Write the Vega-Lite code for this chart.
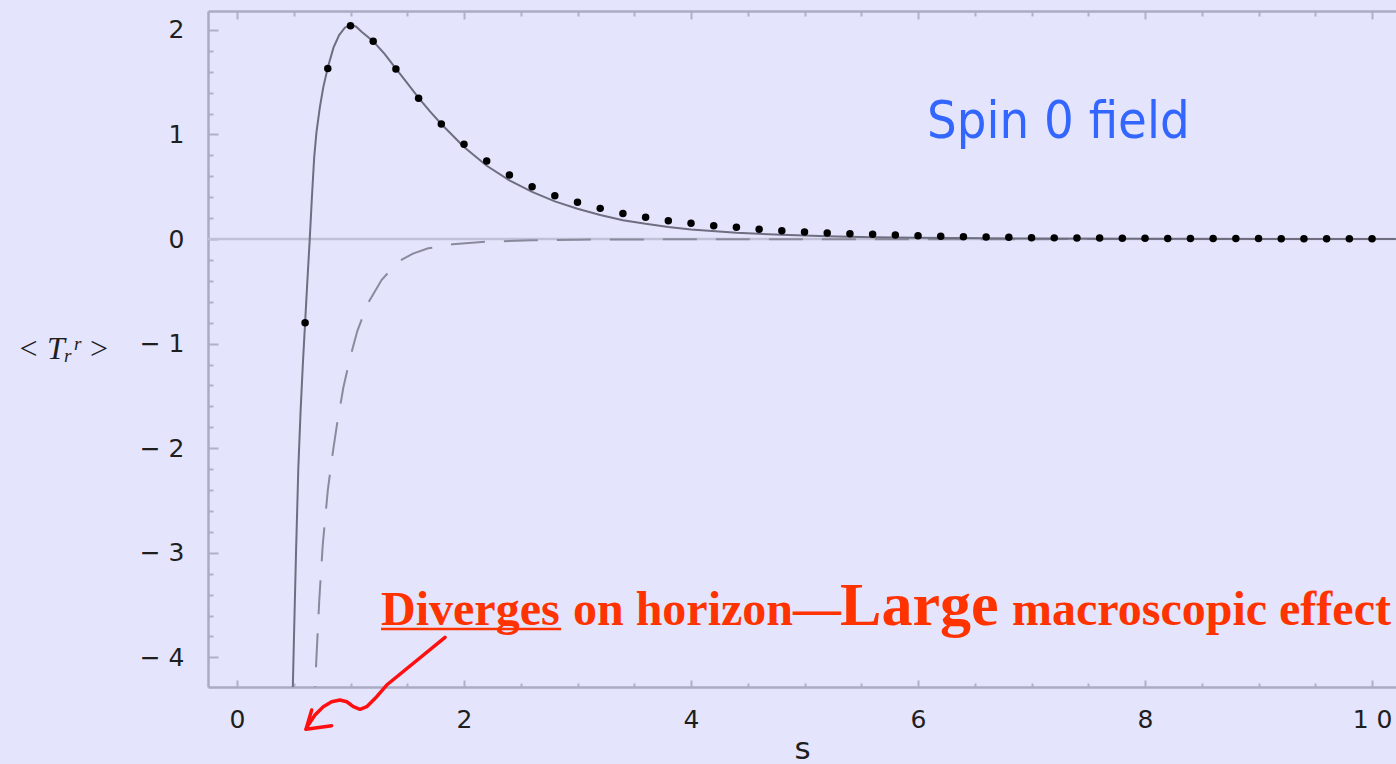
{
  "$schema": "https://vega.github.io/schema/vega-lite/v6.json",
  "width": 1188,
  "height": 676,
  "autosize": "none",
  "padding": {"left": 208, "top": 11, "right": 0, "bottom": 77},
  "background": "#E4E4FC",
  "config": {"view": {"stroke": null}, "axis": {"grid": false}},
  "datasets": {
    "solid": [
      {"s": 0.485, "v": -4.6}, {"s": 0.50, "v": -3.9}, {"s": 0.52, "v": -3.0}, {"s": 0.54, "v": -2.2},
      {"s": 0.56, "v": -1.65}, {"s": 0.58, "v": -1.2}, {"s": 0.60, "v": -0.80}, {"s": 0.62, "v": -0.40},
      {"s": 0.64, "v": -0.02}, {"s": 0.66, "v": 0.40}, {"s": 0.68, "v": 0.78}, {"s": 0.70, "v": 1.02},
      {"s": 0.73, "v": 1.26}, {"s": 0.76, "v": 1.45}, {"s": 0.80, "v": 1.64}, {"s": 0.85, "v": 1.83},
      {"s": 0.90, "v": 1.95}, {"s": 0.95, "v": 2.02}, {"s": 1.00, "v": 2.05}, {"s": 1.05, "v": 2.03},
      {"s": 1.10, "v": 1.98}, {"s": 1.20, "v": 1.89}, {"s": 1.30, "v": 1.77}, {"s": 1.40, "v": 1.63},
      {"s": 1.50, "v": 1.49}, {"s": 1.60, "v": 1.35}, {"s": 1.70, "v": 1.22}, {"s": 1.80, "v": 1.10},
      {"s": 1.90, "v": 0.99}, {"s": 2.00, "v": 0.88}, {"s": 2.20, "v": 0.70}, {"s": 2.40, "v": 0.56},
      {"s": 2.60, "v": 0.45}, {"s": 2.80, "v": 0.36}, {"s": 3.00, "v": 0.29}, {"s": 3.20, "v": 0.23},
      {"s": 3.40, "v": 0.18}, {"s": 3.60, "v": 0.145}, {"s": 3.80, "v": 0.115}, {"s": 4.00, "v": 0.092},
      {"s": 4.40, "v": 0.06}, {"s": 4.80, "v": 0.04}, {"s": 5.20, "v": 0.027}, {"s": 5.60, "v": 0.018},
      {"s": 6.00, "v": 0.012}, {"s": 7.00, "v": 0.005}, {"s": 8.00, "v": 0.002}, {"s": 10.21, "v": 0.0}
    ],
    "dashed": [
      {"s": 0.68, "v": -4.6}, {"s": 0.687, "v": -4.31}, {"s": 0.70, "v": -4.0}, {"s": 0.725, "v": -3.45},
      {"s": 0.755, "v": -2.93}, {"s": 0.80, "v": -2.40}, {"s": 0.843, "v": -2.05}, {"s": 0.88, "v": -1.78},
      {"s": 0.937, "v": -1.42}, {"s": 1.00, "v": -1.12}, {"s": 1.06, "v": -0.88}, {"s": 1.15, "v": -0.62},
      {"s": 1.275, "v": -0.39}, {"s": 1.42, "v": -0.217}, {"s": 1.55, "v": -0.14}, {"s": 1.685, "v": -0.089},
      {"s": 1.90, "v": -0.05}, {"s": 2.20, "v": -0.026}, {"s": 2.60, "v": -0.012}, {"s": 3.00, "v": -0.006},
      {"s": 4.00, "v": -0.002}, {"s": 10.21, "v": 0.0}
    ],
    "dots": [
      {"s": 0.6, "v": -0.80}, {"s": 0.8, "v": 1.63}, {"s": 1.0, "v": 2.04}, {"s": 1.2, "v": 1.89},
      {"s": 1.4, "v": 1.625}, {"s": 1.6, "v": 1.345}, {"s": 1.8, "v": 1.10}, {"s": 2.0, "v": 0.905},
      {"s": 2.2, "v": 0.746}, {"s": 2.4, "v": 0.612}, {"s": 2.6, "v": 0.50}, {"s": 2.8, "v": 0.414},
      {"s": 3.0, "v": 0.351}, {"s": 3.2, "v": 0.293}, {"s": 3.4, "v": 0.245}, {"s": 3.6, "v": 0.207},
      {"s": 3.8, "v": 0.175}, {"s": 4.0, "v": 0.150}, {"s": 4.2, "v": 0.127}, {"s": 4.4, "v": 0.112},
      {"s": 4.6, "v": 0.093}, {"s": 4.8, "v": 0.080}, {"s": 5.0, "v": 0.067}, {"s": 5.2, "v": 0.057},
      {"s": 5.4, "v": 0.051}, {"s": 5.6, "v": 0.045}, {"s": 5.8, "v": 0.038}, {"s": 6.0, "v": 0.032},
      {"s": 6.2, "v": 0.027}, {"s": 6.4, "v": 0.022}, {"s": 6.6, "v": 0.019}, {"s": 6.8, "v": 0.016},
      {"s": 7.0, "v": 0.013}, {"s": 7.2, "v": 0.011}, {"s": 7.4, "v": 0.010}, {"s": 7.6, "v": 0.009},
      {"s": 7.8, "v": 0.008}, {"s": 8.0, "v": 0.007}, {"s": 8.2, "v": 0.006}, {"s": 8.4, "v": 0.005},
      {"s": 8.6, "v": 0.005}, {"s": 8.8, "v": 0.004}, {"s": 9.0, "v": 0.004}, {"s": 9.2, "v": 0.003},
      {"s": 9.4, "v": 0.003}, {"s": 9.6, "v": 0.003}, {"s": 9.8, "v": 0.002}, {"s": 10.0, "v": 0.002}
    ],
    "arrow": [
      {"part": "shaft", "i": 0, "s": 1.833, "v": -3.808},
      {"part": "shaft", "i": 1, "s": 1.319, "v": -4.264},
      {"part": "shaft", "i": 2, "s": 1.231, "v": -4.376},
      {"part": "shaft", "i": 3, "s": 1.143, "v": -4.471},
      {"part": "shaft", "i": 4, "s": 1.084, "v": -4.496},
      {"part": "shaft", "i": 5, "s": 1.025, "v": -4.471},
      {"part": "shaft", "i": 6, "s": 0.967, "v": -4.424},
      {"part": "shaft", "i": 7, "s": 0.907, "v": -4.407},
      {"part": "shaft", "i": 8, "s": 0.834, "v": -4.424},
      {"part": "shaft", "i": 9, "s": 0.760, "v": -4.471},
      {"part": "shaft", "i": 10, "s": 0.687, "v": -4.551},
      {"part": "shaft", "i": 11, "s": 0.628, "v": -4.646},
      {"part": "shaft", "i": 12, "s": 0.608, "v": -4.687},
      {"part": "head", "i": 0, "s": 0.658, "v": -4.503},
      {"part": "head", "i": 1, "s": 0.608, "v": -4.687},
      {"part": "head", "i": 2, "s": 0.834, "v": -4.653}
    ]
  },
  "resolve": {"axis": {"x": "independent", "y": "independent"}},
  "layer": [
    {
      "data": {"values": [{"v": 0}]},
      "mark": {"type": "rule", "color": "#C0C0D8", "strokeWidth": 2.5},
      "encoding": {
        "y": {"field": "v", "type": "quantitative", "axis": null,
              "scale": {"domain": [-4.283, 2.18], "nice": false, "zero": false}}
      }
    },
    {
      "data": {"name": "dashed"},
      "mark": {"type": "line", "color": "#8A8A9C", "strokeWidth": 2, "strokeDash": [34, 19], "clip": true},
      "encoding": {
        "x": {"field": "s", "type": "quantitative", "axis": null,
              "scale": {"domain": [-0.2555, 10.211], "nice": false, "zero": false}},
        "y": {"field": "v", "type": "quantitative", "axis": null,
              "scale": {"domain": [-4.283, 2.18], "nice": false, "zero": false}}
      }
    },
    {
      "data": {"name": "solid"},
      "mark": {"type": "line", "color": "#6E6E80", "strokeWidth": 2, "clip": true},
      "encoding": {
        "x": {"field": "s", "type": "quantitative",
              "scale": {"domain": [-0.2555, 10.211], "nice": false, "zero": false},
              "axis": {
                "orient": "bottom",
                "values": [0, 0.5, 1, 1.5, 2, 2.5, 3, 3.5, 4, 4.5, 5, 5.5, 6, 6.5, 7, 7.5, 8, 8.5, 9, 9.5, 10],
                "domainColor": "#ABABC4", "domainWidth": 2.5,
                "tickColor": "#B0B0C8", "tickWidth": 2,
                "tickSize": {"condition": {"test": "abs(datum.value % 2) < 0.001", "value": -7}, "value": -4},
                "labelExpr": "abs(datum.value % 2) < 0.001 ? (datum.value == 10 ? '1 0' : format(datum.value, 'd')) : ''",
                "labelPadding": 27, "labelFont": "DejaVu Sans", "labelFontSize": 25, "labelColor": "#1E1E1E",
                "labelBaseline": "top", "labelFlush": false, "labelOverlap": false,
                "title": "s", "titleFont": "DejaVu Sans", "titleFontSize": 31, "titleFontWeight": "normal",
                "titleColor": "#1E1E1E", "titleBaseline": "middle", "titleY": 62
              }},
        "y": {"field": "v", "type": "quantitative",
              "scale": {"domain": [-4.283, 2.18], "nice": false, "zero": false},
              "axis": {
                "orient": "left",
                "values": [-4, -3.8, -3.6, -3.4, -3.2, -3, -2.8, -2.6, -2.4, -2.2, -2, -1.8, -1.6, -1.4, -1.2, -1, -0.8, -0.6, -0.4, -0.2, 0, 0.2, 0.4, 0.6, 0.8, 1, 1.2, 1.4, 1.6, 1.8, 2],
                "domainColor": "#ABABC4", "domainWidth": 2.5,
                "tickColor": "#B0B0C8", "tickWidth": 2,
                "tickSize": {"condition": {"test": "abs(datum.value - round(datum.value)) < 0.001", "value": -10}, "value": -5},
                "labelExpr": "abs(datum.value - round(datum.value)) < 0.001 ? (datum.value < 0 ? '− ' + format(-datum.value, 'd') : format(datum.value, 'd')) : ''",
                "labelPadding": 34, "labelFont": "DejaVu Sans", "labelFontSize": 25, "labelColor": "#1E1E1E",
                "labelFlush": false, "labelOverlap": false,
                "title": "< Tᵣʳ >", "titleFont": "Liberation Serif", "titleFontSize": 32, "titleFontStyle": "italic",
                "titleFontWeight": "normal", "titleColor": "#1E1E1E", "titleAngle": 0, "titleAlign": "center",
                "titleBaseline": "middle", "titleX": -145, "titleY": 337
              }}
      }
    },
    {
      "data": {"name": "dots"},
      "mark": {"type": "point", "filled": true, "shape": "circle", "size": 56, "color": "#000000", "opacity": 1},
      "encoding": {
        "x": {"field": "s", "type": "quantitative",
              "scale": {"domain": [-0.2555, 10.211], "nice": false, "zero": false},
              "axis": {
                "orient": "top",
                "values": [0, 0.5, 1, 1.5, 2, 2.5, 3, 3.5, 4, 4.5, 5, 5.5, 6, 6.5, 7, 7.5, 8, 8.5, 9, 9.5, 10],
                "labels": false, "title": null,
                "domainColor": "#ABABC4", "domainWidth": 2.5,
                "tickColor": "#B0B0C8", "tickWidth": 2,
                "tickSize": {"condition": {"test": "abs(datum.value % 2) < 0.001", "value": -8}, "value": -5}
              }},
        "y": {"field": "v", "type": "quantitative", "axis": null}
      }
    },
    {
      "data": {"values": [{"s": 6.08, "v": 0.966, "label": "Spin 0 field"}]},
      "mark": {"type": "text", "align": "left", "baseline": "alphabetic", "font": "DejaVu Sans Condensed, Open Sans",
               "fontSize": 52, "color": "#3366FF", "clip": false},
      "encoding": {
        "x": {"field": "s", "type": "quantitative", "axis": null},
        "y": {"field": "v", "type": "quantitative", "axis": null},
        "text": {"field": "label"}
      }
    },
    {
      "data": {"values": [
        {"s": 1.269, "v": -3.69, "label": "Diverges"},
        {"s": 2.96, "v": -3.69, "label": "on horizon—"},
        {"s": 6.828, "v": -3.69, "label": "macroscopic effect"}
      ]},
      "mark": {"type": "text", "align": "left", "baseline": "alphabetic", "font": "Liberation Serif",
               "fontWeight": "bold", "fontSize": 48, "color": "#FF3300", "clip": false},
      "encoding": {
        "x": {"field": "s", "type": "quantitative", "axis": null},
        "y": {"field": "v", "type": "quantitative", "axis": null},
        "text": {"field": "label"}
      }
    },
    {
      "data": {"values": [{"s": 5.313, "v": -3.69, "label": "Large"}]},
      "mark": {"type": "text", "align": "left", "baseline": "alphabetic", "font": "Liberation Serif",
               "fontWeight": "bold", "fontSize": 62, "color": "#FF3300", "clip": false},
      "encoding": {
        "x": {"field": "s", "type": "quantitative", "axis": null},
        "y": {"field": "v", "type": "quantitative", "axis": null},
        "text": {"field": "label"}
      }
    },
    {
      "data": {"values": [{"s": 1.269, "s2": 2.855, "v": -3.728}]},
      "mark": {"type": "rule", "color": "#FF3300", "strokeWidth": 2.5, "clip": false},
      "encoding": {
        "x": {"field": "s", "type": "quantitative", "axis": null},
        "x2": {"field": "s2"},
        "y": {"field": "v", "type": "quantitative", "axis": null}
      }
    },
    {
      "data": {"name": "arrow"},
      "mark": {"type": "line", "color": "#FF1010", "strokeWidth": 3.5, "strokeCap": "round", "strokeJoin": "round", "clip": false, "interpolate": "linear"},
      "encoding": {
        "x": {"field": "s", "type": "quantitative", "axis": null},
        "y": {"field": "v", "type": "quantitative", "axis": null},
        "detail": {"field": "part"},
        "order": {"field": "i", "type": "quantitative"}
      }
    }
  ]
}
